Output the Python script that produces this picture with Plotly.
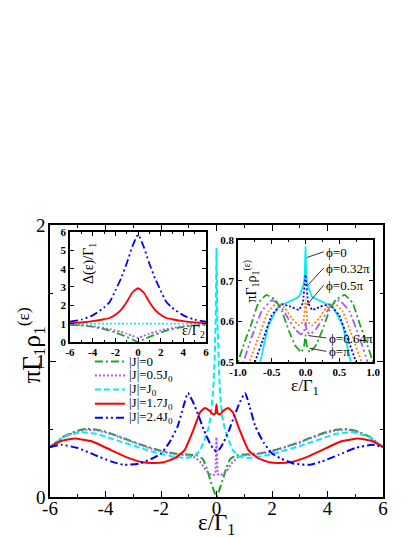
import plotly.graph_objects as go

# ---------------- main panel data ----------------
legend_labels = ["|J|=0", "|J|=0.5J<sub>0</sub>", "|J|=J<sub>0</sub>", "|J|=1.7J<sub>0</sub>", "|J|=2.4J<sub>0</sub>"]

x_j0 = [-6, -5.5, -5, -4.7, -4.3, -4, -3.5, -3, -2.5, -2, -1.5, -1, -0.7, -0.5, -0.35, -0.2, -0.1, 0,
        0.1, 0.2, 0.35, 0.5, 0.7, 1, 1.5, 2, 2.5, 3, 3.5, 4, 4.3, 4.7, 5, 5.5, 6]
y_j0 = [0.367, 0.445, 0.488, 0.50, 0.495, 0.48, 0.445, 0.405, 0.37, 0.34, 0.32, 0.312, 0.305, 0.28, 0.21, 0.11, 0.05, 0.0,
        0.05, 0.11, 0.21, 0.28, 0.305, 0.312, 0.32, 0.34, 0.37, 0.405, 0.445, 0.48, 0.495, 0.50, 0.488, 0.445, 0.367]

x_j05 = [-6, -5.5, -5, -4.7, -4.3, -4, -3.5, -3, -2.5, -2, -1.5, -1, -0.75, -0.55, -0.4, -0.25, -0.12, -0.04, 0,
         0.04, 0.12, 0.25, 0.4, 0.55, 0.75, 1, 1.5, 2, 2.5, 3, 3.5, 4, 4.3, 4.7, 5, 5.5, 6]
y_j05 = [0.367, 0.443, 0.485, 0.495, 0.49, 0.475, 0.44, 0.4, 0.365, 0.335, 0.315, 0.305, 0.29, 0.25, 0.2, 0.17, 0.158, 0.17, 0.44,
         0.17, 0.158, 0.17, 0.2, 0.25, 0.29, 0.305, 0.315, 0.335, 0.365, 0.4, 0.44, 0.475, 0.49, 0.495, 0.485, 0.443, 0.367]

x_j1 = [-6, -5.5, -4.9, -4.3, -3.8, -3, -2.5, -2, -1.5, -1.1, -0.8, -0.6, -0.45, -0.3, -0.2, -0.12, -0.07, -0.03, 0,
        0.03, 0.07, 0.12, 0.2, 0.3, 0.45, 0.6, 0.8, 1.1, 1.5, 2, 2.5, 3, 3.8, 4.3, 4.9, 5.5, 6]
y_j1 = [0.367, 0.445, 0.477, 0.465, 0.43, 0.375, 0.345, 0.315, 0.295, 0.287, 0.3, 0.34, 0.41, 0.5, 0.6, 0.78, 1.0, 1.3, 1.83,
        1.3, 1.0, 0.78, 0.6, 0.5, 0.41, 0.34, 0.3, 0.287, 0.295, 0.315, 0.345, 0.375, 0.43, 0.465, 0.477, 0.445, 0.367]

x_j17 = [-6, -5.6, -5.1, -4.5, -3.8, -3.2, -2.7, -2.3, -1.9, -1.5, -1.15, -0.8, -0.6, -0.42, -0.25, -0.12, -0.04, 0,
         0.04, 0.12, 0.25, 0.42, 0.6, 0.8, 1.15, 1.5, 1.9, 2.3, 2.7, 3.2, 3.8, 4.5, 5.1, 5.6, 6]
y_j17 = [0.367, 0.412, 0.43, 0.41, 0.345, 0.29, 0.258, 0.25, 0.255, 0.285, 0.345, 0.51, 0.62, 0.655, 0.635, 0.607, 0.615, 0.68,
         0.615, 0.607, 0.635, 0.655, 0.62, 0.51, 0.345, 0.285, 0.255, 0.25, 0.258, 0.29, 0.345, 0.41, 0.43, 0.412, 0.367]

x_j24 = [-6, -5.6, -5, -4.4, -3.8, -3.35, -2.8, -2.3, -2, -1.7, -1.4, -1.2, -1.03, -0.85, -0.65, -0.45, -0.25, -0.1, 0,
         0.1, 0.25, 0.45, 0.65, 0.85, 1.03, 1.2, 1.4, 1.7, 2, 2.3, 2.8, 3.35, 3.8, 4.4, 5, 5.6, 6]
y_j24 = [0.367, 0.384, 0.36, 0.31, 0.262, 0.237, 0.245, 0.285, 0.32, 0.4, 0.52, 0.66, 0.765, 0.7, 0.6, 0.49, 0.4, 0.35, 0.335,
         0.35, 0.4, 0.49, 0.6, 0.7, 0.765, 0.66, 0.52, 0.4, 0.32, 0.285, 0.245, 0.237, 0.262, 0.31, 0.36, 0.384, 0.367]

# ---------------- inset 1 data: Delta(e)/Gamma1 vs e/Gamma2 ----------------
xd = [-6, -5, -4, -3, -2.5, -2, -1.5, -1, -0.5, 0, 0.5, 1, 1.5, 2, 2.5, 3, 4, 5, 6]
d_j0 = [0.94, 0.9, 0.83, 0.7, 0.62, 0.52, 0.4, 0.28, 0.14, 0.0, 0.14, 0.28, 0.4, 0.52, 0.62, 0.7, 0.83, 0.9, 0.94]
d_j05 = [0.95, 0.92, 0.86, 0.76, 0.7, 0.64, 0.55, 0.45, 0.34, 0.22, 0.34, 0.45, 0.55, 0.64, 0.7, 0.76, 0.86, 0.92, 0.95]
d_j1 = [1.0, 1.0, 1.0, 1.0, 1.0, 1.0, 1.0, 1.0, 1.0, 1.0, 1.0, 1.0, 1.0, 1.0, 1.0, 1.0, 1.0, 1.0, 1.0]
d_j17 = [1.02, 1.07, 1.14, 1.24, 1.31, 1.48, 1.75, 2.18, 2.7, 2.93, 2.7, 2.18, 1.75, 1.48, 1.31, 1.24, 1.14, 1.07, 1.02]
d_j24 = [1.11, 1.22, 1.45, 1.88, 2.18, 2.8, 3.47, 4.28, 5.2, 5.85, 5.2, 4.28, 3.47, 2.8, 2.18, 1.88, 1.45, 1.22, 1.11]

# ---------------- inset 2 data: phase dependence ----------------
phi_labels = ["ϕ=0", "ϕ=0.32π", "ϕ=0.5π", "ϕ=0.64π", "ϕ=π"]

xp_0 = [-0.8, -0.67, -0.55, -0.4, -0.25, -0.1, -0.03, -0.01, 0, 0.01, 0.03, 0.1, 0.25, 0.4, 0.55, 0.67, 0.8]
yp_0 = [0.43, 0.5, 0.59, 0.636, 0.648, 0.66, 0.69, 0.72, 0.783, 0.72, 0.69, 0.66, 0.648, 0.636, 0.59, 0.5, 0.43]

xp_032 = [-1.0, -0.75, -0.62, -0.5, -0.35, -0.22, -0.1, -0.04, 0, 0.04, 0.1, 0.22, 0.35, 0.5, 0.62, 0.75, 1.0]
yp_032 = [0.39, 0.5, 0.56, 0.615, 0.642, 0.636, 0.628, 0.645, 0.714, 0.645, 0.628, 0.636, 0.642, 0.615, 0.56, 0.5, 0.39]

xp_05 = [-1.0, -0.83, -0.7, -0.55, -0.42, -0.3, -0.2, -0.1, -0.03, 0, 0.03, 0.1, 0.2, 0.3, 0.42, 0.55, 0.7, 0.83, 1.0]
yp_05 = [0.43, 0.5, 0.56, 0.625, 0.646, 0.632, 0.607, 0.59, 0.6, 0.653, 0.6, 0.59, 0.607, 0.632, 0.646, 0.625, 0.56, 0.5, 0.43]

xp_064 = [-1.0, -0.92, -0.8, -0.65, -0.5, -0.38, -0.25, -0.15, -0.07, -0.02, 0, 0.02, 0.07, 0.15, 0.25, 0.38, 0.5, 0.65, 0.8, 0.92, 1.0]
yp_064 = [0.46, 0.5, 0.56, 0.625, 0.652, 0.64, 0.605, 0.58, 0.568, 0.575, 0.60, 0.575, 0.568, 0.58, 0.605, 0.64, 0.652, 0.625, 0.56, 0.5, 0.46]

xp_pi = [-1.05, -1.0, -0.9, -0.8, -0.7, -0.58, -0.45, -0.35, -0.25, -0.15, -0.06, -0.02, 0,
         0.02, 0.06, 0.15, 0.25, 0.35, 0.45, 0.58, 0.7, 0.8, 0.9, 1.0, 1.05]
yp_pi = [0.475, 0.50, 0.55, 0.595, 0.645, 0.665, 0.653, 0.625, 0.578, 0.54, 0.524, 0.54, 0.566,
         0.54, 0.524, 0.54, 0.578, 0.625, 0.653, 0.665, 0.645, 0.595, 0.55, 0.50, 0.475]

# ---------------- styles ----------------
GREEN = "#1fa31f"
PURPLE = "#a35cf5"
CYAN = "#00eef2"
RED = "#ff0000"
BLUE = "#0000ff"
ORANGE = "#ff8a00"
DASHDOT = "8px,3px,2px,3px"
DOT = "2px,2px"
DASH = "6px,3px"
DASHDOTDOT = "8px,3px,2px,3px,2px,3px"
SERIF = "Liberation Serif"

styles = [(GREEN, DASHDOT), (PURPLE, DOT), (CYAN, DASH), (RED, "solid"), (BLUE, DASHDOTDOT)]
main_series = [(x_j0, y_j0), (x_j05, y_j05), (x_j1, y_j1), (x_j17, y_j17), (x_j24, y_j24)]
main_smooth = [0.5, 0.0, 0.0, 0.35, 0.5]
inset1_series = [d_j0, d_j05, d_j1, d_j17, d_j24]
inset1_styles = [(GREEN, DASHDOT), (PURPLE, DOT), (CYAN, DOT), (RED, "solid"), (BLUE, DASHDOTDOT)]

fig = go.Figure()

for (xs, ys), (c, d), name, sm in zip(main_series, styles, legend_labels, main_smooth):
    line = dict(color=c, dash=d, width=2)
    if sm > 0:
        line.update(shape="spline", smoothing=sm)
    fig.add_trace(go.Scatter(x=xs, y=ys, mode="lines", name=name, showlegend=False,
                             line=line, xaxis="x", yaxis="y"))

for ys, (c, d) in zip(inset1_series, inset1_styles):
    fig.add_trace(go.Scatter(x=xd, y=ys, mode="lines", showlegend=False,
                             line=dict(color=c, dash=d, width=1.8, shape="spline", smoothing=0.5),
                             xaxis="x2", yaxis="y2"))

inset2_series = [(xp_0, yp_0, CYAN, "solid"), (xp_032, yp_032, BLUE, DOT), (xp_05, yp_05, ORANGE, DOT),
                 (xp_064, yp_064, PURPLE, DASHDOTDOT), (xp_pi, yp_pi, GREEN, DASHDOT)]
for xs, ys, c, d in inset2_series:
    fig.add_trace(go.Scatter(x=xs, y=ys, mode="lines", showlegend=False,
                             line=dict(color=c, dash=d, width=1.8, shape="spline", smoothing=0.25),
                             xaxis="x3", yaxis="y3"))

# ---------------- axes ----------------
def ax_common(**kw):
    d = dict(showline=True, linecolor="black", linewidth=1.5, mirror="allticks", ticks="inside",
             tickcolor="black", showgrid=False, zeroline=False)
    d.update(kw)
    return d

main_font = dict(family=SERIF, size=19, color="black")
inset_font = dict(family=SERIF, size=11, color="black", weight="bold")

fig.update_layout(
    width=415, height=537,
    margin=dict(l=50, r=32, t=225, b=40),
    paper_bgcolor="white", plot_bgcolor="white",
    xaxis=ax_common(domain=[0, 1], range=[-6, 6], tickvals=[-6, -4, -2, 0, 2, 4, 6],
                    ticktext=["-6", "-4", "-2", "0", "2", "4", "6"], ticklen=6, tickfont=main_font,
                    minor=dict(tickvals=[-5, -3, -1, 1, 3, 5], ticks="inside", ticklen=3, tickcolor="black"),
                    anchor="y", ticklabelstandoff=-7),
    yaxis=ax_common(domain=[0, 1], range=[0, 2], tickvals=[0, 1, 2], ticktext=["0", "1", "2"],
                    ticklen=6, tickfont=main_font,
                    minor=dict(tickvals=[0.5, 1.5], ticks="inside", ticklen=3, tickcolor="black"),
                    anchor="x", ticklabelstandoff=-1),
    xaxis2=ax_common(domain=[0.0601, 0.4685], range=[-6, 6], tickvals=[-6, -4, -2, 0, 2, 4, 6],
                     ticktext=["-6", "-4", "-2", "0", "2", "4", "6"], ticklen=4, tickfont=inset_font,
                     minor=dict(tickvals=[-5, -3, -1, 1, 3, 5], ticks="inside", ticklen=2, tickcolor="black"),
                     anchor="y2", ticklabelstandoff=-1),
    yaxis2=ax_common(domain=[0.5699, 0.9743], range=[0, 6], tickvals=[0, 1, 2, 3, 4, 5, 6],
                     ticklen=4, tickfont=inset_font, anchor="x2", ticklabelstandoff=0),
    xaxis3=ax_common(domain=[0.5646, 0.970], range=[-1, 1], tickvals=[-1, -0.5, 0, 0.5, 1],
                     ticktext=["-1.0", "-0.5", "0.0", "0.5", "1.0"], ticklen=4, tickfont=inset_font,
                     minor=dict(tickvals=[-0.75, -0.25, 0.25, 0.75], ticks="inside", ticklen=2, tickcolor="black"),
                     anchor="y3", ticklabelstandoff=-1),
    yaxis3=ax_common(domain=[0.4963, 0.9449], range=[0.5, 0.8], tickvals=[0.5, 0.6, 0.7, 0.8],
                     ticktext=["0.5", "0.6", "0.7", "0.8"], ticklen=4, tickfont=inset_font,
                     anchor="x3", ticklabelstandoff=0),
)

annotations = []
shapes = []

# axis titles
annotations.append(dict(text="πΓ<sub>1</sub>ρ<sub>1</sub><sup>(ε)</sup>", xref="paper", yref="paper",
                        x=-0.056, y=0.559, xanchor="center", yanchor="middle", textangle=-90, showarrow=False,
                        font=dict(family=SERIF, size=25, color="black")))
annotations.append(dict(text="ε/Γ<sub>1</sub>", xref="paper", yref="paper", x=0.4985, y=-0.098,
                        xanchor="center", yanchor="middle", borderpad=0,
                        showarrow=False, font=dict(family=SERIF, size=23, color="black")))
annotations.append(dict(text="Δ(ε)/Γ<sub>1</sub>", xref="x2", yref="y2", x=-4.24, y=4.31, textangle=-90,
                        xanchor="center", yanchor="middle",
                        showarrow=False, font=dict(family=SERIF, size=14, color="black")))
annotations.append(dict(text="ε/Γ<sub>2</sub>", xref="x2", yref="y2", x=4.94, y=0.55,
                        xanchor="center", yanchor="middle",
                        showarrow=False, font=dict(family=SERIF, size=14, color="black")))
annotations.append(dict(text="πΓ<sub>1</sub>ρ<sub>1</sub><sup>(ε)</sup>", xref="x3", yref="y3", x=-0.8, y=0.699,
                        xanchor="center", yanchor="middle",
                        textangle=-90, showarrow=False, font=dict(family=SERIF, size=14, color="black")))
annotations.append(dict(text="ε/Γ<sub>1</sub>", xref="paper", yref="paper", x=0.766, y=0.405,
                        xanchor="center", yanchor="middle", borderpad=0,
                        showarrow=False, font=dict(family=SERIF, size=17, color="black")))

# manual legend
leg_y = [0.996, 0.893, 0.79, 0.686, 0.583]
for (c, d), lab, yy in zip(styles, legend_labels, leg_y):
    shapes.append(dict(type="line", xref="x", yref="y", x0=-4.38, x1=-3.3, y0=yy, y1=yy,
                       line=dict(color=c, dash=d, width=2)))
    annotations.append(dict(text=lab, xref="x", yref="y", x=-3.2, y=yy, xanchor="left", yanchor="middle",
                            borderpad=0, showarrow=False, font=dict(family=SERIF, size=13, color="black")))

# phi labels in inset 2
phi_text_pos = [(0.29, 0.77), (0.29, 0.731), (0.29, 0.689), (0.33, 0.559), (0.33, 0.525)]
phi_line = [((0.27, 0.771), (0.02, 0.757)), ((0.27, 0.731), (0.04, 0.69)), ((0.27, 0.689), (0.02, 0.64)),
            ((0.31, 0.559), (0.04, 0.565)), ((0.31, 0.526), (0.06, 0.534))]
for lab, (tx, ty), ((x0, y0), (x1, y1)) in zip(phi_labels, phi_text_pos, phi_line):
    annotations.append(dict(text=lab, xref="x3", yref="y3", x=tx, y=ty, xanchor="left", yanchor="middle",
                            borderpad=0, showarrow=False, font=dict(family=SERIF, size=13, color="black")))
    shapes.append(dict(type="line", xref="x3", yref="y3", x0=x0, y0=y0, x1=x1, y1=y1,
                       line=dict(color="black", width=0.8)))

fig.update_layout(annotations=annotations, shapes=shapes)

fig.write_html("out.html", config={"displayModeBar": False},
               post_script="document.body.style.margin='0';document.body.style.padding='0';")
